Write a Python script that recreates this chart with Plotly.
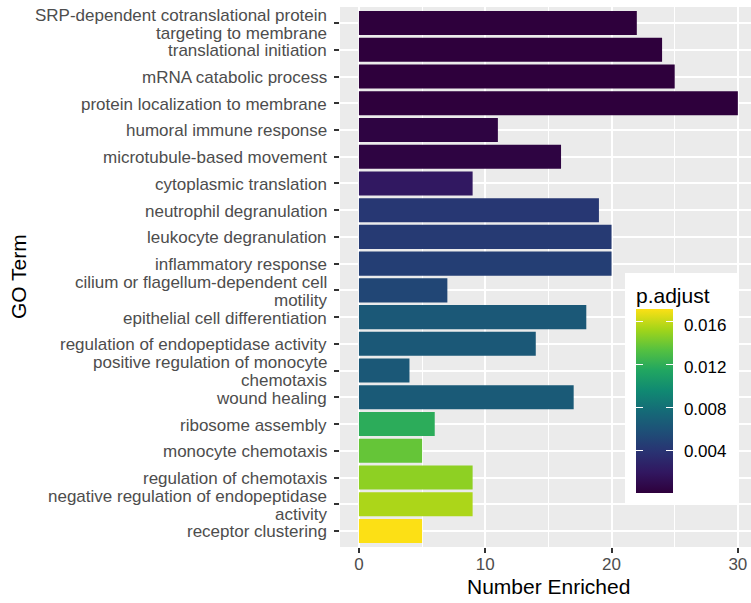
import plotly.graph_objects as go
from plotly.colors import sequential, hex_to_rgb

terms = [
    "SRP-dependent cotranslational protein\ntargeting to membrane",
    "translational initiation",
    "mRNA catabolic process",
    "protein localization to membrane",
    "humoral immune response",
    "microtubule-based movement",
    "cytoplasmic translation",
    "neutrophil degranulation",
    "leukocyte degranulation",
    "inflammatory response",
    "cilium or flagellum-dependent cell\nmotility",
    "epithelial cell differentiation",
    "regulation of endopeptidase activity",
    "positive regulation of monocyte\nchemotaxis",
    "wound healing",
    "ribosome assembly",
    "monocyte chemotaxis",
    "regulation of chemotaxis",
    "negative regulation of endopeptidase\nactivity",
    "receptor clustering",
]
counts = [22, 24, 25, 30, 11, 16, 9, 19, 20, 20, 7, 18, 14, 4, 17, 6, 5, 9, 9, 5]
padj = [0.0001, 0.0001, 0.0001, 0.0001, 0.0004, 0.0004, 0.0021, 0.0042, 0.0044, 0.0047,
        0.0052, 0.0064, 0.0064, 0.0064, 0.0066, 0.0119, 0.0138, 0.0148, 0.0155, 0.0172]
cbar_ticks = [0.004, 0.008, 0.012, 0.016]
cbar_ticktext = ["0.004", "0.008", "0.012", "0.016"]
x_ticks = [0, 10, 20, 30]
x_minor = [5, 15, 25]
cmin, cmax = 0.0001, 0.0172

FONT = "Liberation Sans, Arial, sans-serif"
TXT = "#4D4D4D"


# viridis, rendered slightly darker like the reference image
def _dark(h, g=1.3):
    r, gg, b = hex_to_rgb(h)
    f = lambda c: round(255 * (c / 255) ** g)
    return f"rgb({f(r)},{f(gg)},{f(b)})"


vir = sequential.Viridis
cscale = [[i / (len(vir) - 1), _dark(c)] for i, c in enumerate(vir)]

W_FIG, H_FIG = 751, 603
PL, PR, PT, PB = 340, 751, 7, 547
PW, PH = PR - PL, PB - PT


def px_x(page_x):
    return (page_x - PL) / PW


def px_y(page_y):
    return (PB - page_y) / PH


XPAD, YPAD = 11, 12
CB_X = px_x(625)
BAR_BOTTOM, BAR_TOP = 492.5, 308.3
CB_TITLE_FONT = dict(size=21, family=FONT)


def cbar(**kw):
    base = dict(
        thickness=37, thicknessmode="pixels",
        x=CB_X, xanchor="left", yanchor="bottom",
        xpad=XPAD, outlinewidth=0,
        tickvals=cbar_ticks, ticktext=cbar_ticktext,
    )
    base.update(kw)
    return base


fig = go.Figure()
fig.add_trace(go.Bar(
    x=counts, y=terms, orientation="h",
    marker=dict(
        color=padj, colorscale=cscale, cmin=cmin, cmax=cmax, line=dict(width=0),
        colorbar=cbar(
            title=dict(text="p.adjust", side="top", font=dict(CB_TITLE_FONT, color="#000000")),
            len=232, lenmode="pixels",
            y=px_y(BAR_BOTTOM + YPAD), ypad=YPAD,
            ticks="outside", ticklen=8, tickcolor="rgba(0,0,0,0)",
            tickfont=dict(size=17, color="#000000", family=FONT),
            bgcolor="white",
        ),
    ),
    showlegend=False, hoverinfo="x+y",
))
# white tick marks inside the colour bar: right edge, then left edge
for thick in (37, 7):
    fig.add_trace(go.Scatter(
        x=counts, y=terms, mode="markers", showlegend=False, hoverinfo="skip",
        marker=dict(
            color=padj, colorscale=cscale, cmin=cmin, cmax=cmax, opacity=0,
            colorbar=cbar(
                thickness=thick,
                len=BAR_BOTTOM - BAR_TOP, lenmode="pixels",
                y=px_y(BAR_BOTTOM), ypad=0,
                ticks="inside", ticklen=7, tickcolor="white", tickwidth=1.2,
                showticklabels=False,
                bgcolor="rgba(0,0,0,0)",
            ),
        ),
    ))

# y tick labels (ggplot-style tight line spacing for wrapped labels)
annotations = []
LINE = 18
for t in terms:
    lines = t.split("\n")
    n = len(lines)
    for i, ln in enumerate(lines):
        annotations.append(dict(
            text=ln, x=px_x(329), y=t, xref="paper", yref="y",
            xanchor="right", yanchor="middle", showarrow=False,
            yshift=((n - 1) / 2 - i) * LINE - 1,
            font=dict(size=17, color=TXT, family=FONT),
        ))
annotations += [
    dict(text="Number Enriched", x=px_x(548), y=px_y(587), xref="paper", yref="paper",
         xanchor="center", yanchor="middle", showarrow=False,
         font=dict(size=21, color="#000000", family=FONT)),
    dict(text="GO Term", x=px_x(18), y=px_y(277), xref="paper", yref="paper",
         xanchor="center", yanchor="middle", textangle=-90, showarrow=False,
         font=dict(size=21, color="#000000", family=FONT)),
]

fig.update_layout(
    width=W_FIG, height=H_FIG,
    margin=dict(l=PL, r=W_FIG - PR, t=PT, b=H_FIG - PB, autoexpand=False),
    paper_bgcolor="white", plot_bgcolor="#EBEBEB",
    bargap=0.1, barmode="overlay",
    font=dict(family=FONT),
    xaxis=dict(
        range=[-1.5, 31.04], tickvals=x_ticks,
        showgrid=True, gridcolor="white", gridwidth=2,
        minor=dict(tickvals=x_minor, showgrid=True, gridcolor="white", gridwidth=1, ticks=""),
        ticks="outside", ticklen=5, tickcolor="#333333", tickwidth=1.5,
        ticklabelstandoff=-3,
        tickfont=dict(size=17, color=TXT, family=FONT),
        zeroline=False, showline=False, automargin=False,
    ),
    yaxis=dict(
        categoryorder="array", categoryarray=terms,
        range=[19.6, -0.6],
        showgrid=True, gridcolor="white", gridwidth=2,
        ticks="outside", ticklen=5, tickcolor="#333333", tickwidth=1.5,
        showticklabels=False,
        zeroline=False, showline=False, automargin=False,
    ),
    annotations=annotations,
)

fig.write_html("out.html", config={"displayModeBar": False},
               post_script="document.body.style.margin='0';")
